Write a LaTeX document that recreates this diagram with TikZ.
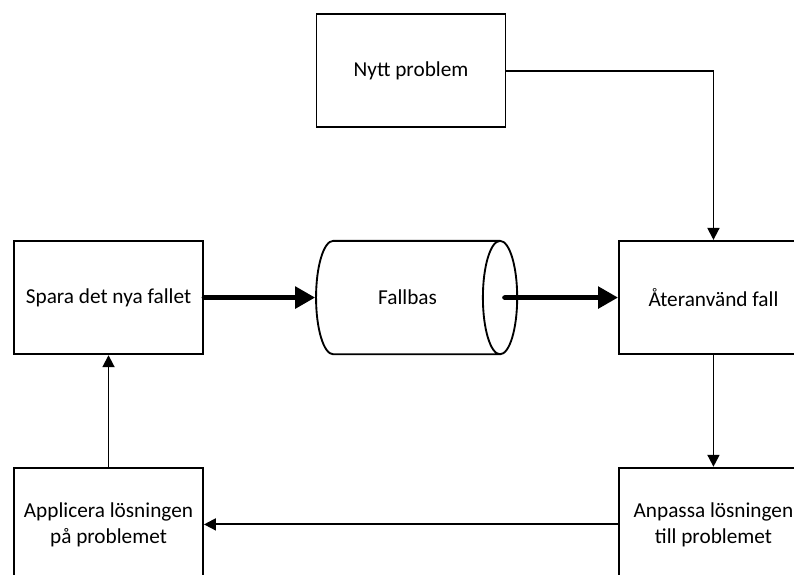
\documentclass[tikz,border=0pt]{standalone}
\usepackage{fontspec}
\setmainfont{Carlito}
\usetikzlibrary{shapes.geometric,arrows.meta}

\begin{document}
\begin{tikzpicture}[line width=1.4pt, >={Triangle[length=9pt,width=9pt]},
main node/.style={rectangle,draw,minimum width=5cm,minimum height=3cm,align=center,inner sep=0pt},
base node/.style={cylinder,draw,aspect=2.3,minimum width=3cm,minimum height=5.32cm,inner sep=0pt},
fat/.style={line width=3.5pt,line cap=round,-{Triangle[length=15pt,width=16pt]}}]
\clip (-2.87,-7.32) rectangle (18.13,7.87);
\begin{scope}[every node/.style={font=\fontsize{16}{19.5}\selectfont}]
\node [main node](ny) at (8,6) {Nytt problem};
\node [main node](spara) at (0,0) {Spara det nya fallet};
\node [base node](bas) at (7.91,0) {Fallbas};
\node [main node](ater) at (16,0) {Återanvänd fall};
\node [main node](app) at (0,-6) {Applicera lösningen\\på problemet};
\node [main node](anp) at (16,-6) {Anpassa lösningen\\till problemet};
\end{scope}
\draw [fat] (spara) -- (bas);
\draw [fat] ([xshift=-0.36cm]bas.east) -- (ater);
\draw [->] (ny) -| (ater);
\draw [->] (ater) -- (anp);
\draw [->] (anp) -- (app);
\draw [->] (app) -- (spara);
\end{tikzpicture}
\end{document}
